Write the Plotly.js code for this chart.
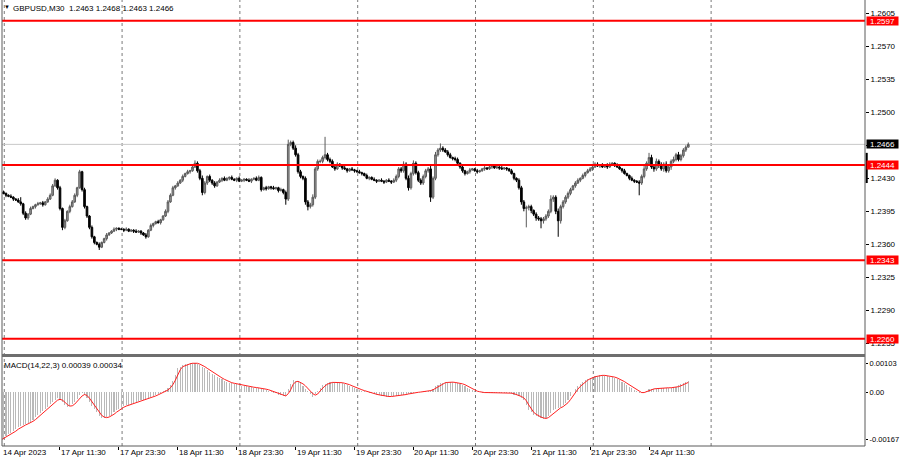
<!DOCTYPE html>
<html><head><meta charset="utf-8">
<script src="https://cdn.plot.ly/plotly-3.0.1.min.js"></script>
<style>html,body{margin:0;padding:0;background:#fff;}#chart{width:900px;height:460px;}</style>
</head><body><div id="chart"></div>
<script>
// GBPUSD M30, bars from 14 Apr 23:30 to 24 Apr 19:30 (bar index 0..280)
// prices in pips above 1.2000 (466 = 1.2466)
const firstOpenPips = 416;
const closePips = [
415,414,412,411,410,408,407,405,403,393,
388,392,398,400,402,403,404,402,405,408,
412,422,428,420,398,378,385,395,400,405,
412,420,437,418,400,390,378,368,362,360,
357,362,366,370,372,374,376,377,376,376,
375,376,374,375,374,373,374,372,370,368,
375,380,382,384,383,386,390,395,405,412,
420,422,425,428,432,435,437,438,442,446,
438,430,415,425,432,428,425,422,426,428,
430,428,430,431,429,428,430,427,428,429,
428,427,429,430,428,431,418,420,419,421,
420,419,420,417,418,415,408,466,468,462,
455,437,432,430,405,400,402,410,440,448,
448,452,455,450,448,442,440,445,443,441,
440,438,440,439,438,437,436,435,433,430,
431,429,428,427,428,427,426,428,427,426,
428,432,440,438,445,430,420,435,446,436,
428,425,432,438,440,410,430,455,460,462,
460,458,455,452,451,450,446,442,438,435,
437,439,440,438,437,438,440,441,440,442,
443,441,442,441,440,441,440,438,435,430,
428,420,405,398,399,400,396,392,388,387,
385,387,390,395,408,410,395,385,400,405,
410,414,418,422,425,428,430,433,436,438,
440,442,445,443,444,442,444,442,445,446,
444,442,440,438,435,433,430,428,427,426,
425,432,440,446,452,442,440,448,444,440,
445,438,442,448,450,455,450,454,460,463,
466];
// wick lengths in pips above body top / below body bottom
const upperWick = [
1,2,1,1,2,1,1,2,5,1, 2,1,2,1,1,2,1,2,1,2, 2,2,2,1,2,1,2,1,2,2, 2,1,2,1,2,1,1,2,1,1,
2,1,1,2,1,1,2,1,1,1, 1,2,1,1,1,2,1,1,1,2, 1,2,1,1,2,1,1,2,2,2, 2,1,2,1,2,1,2,1,2,3,
2,2,3,2,1,2,1,2,1,2, 1,2,1,1,2,1,1,2,1,1, 1,2,1,1,2,2,1,1,2,1, 1,2,1,1,2,1,2,5,2,2,
3,2,2,1,2,2,2,3,2,2, 2,2,19,2,2,2,1,2,1,1, 2,1,1,2,1,1,2,1,1,2, 1,1,2,1,1,2,1,1,2,1,
2,2,2,2,3,2,3,2,3,2, 2,2,2,2,2,3,2,3,2,5, 2,2,2,2,1,2,2,1,2,1, 1,2,1,1,2,1,1,2,1,1,
1,2,1,1,2,1,1,1,2,1, 1,2,2,2,2,2,2,1,2,2, 2,2,2,2,4,2,2,3,2,2, 2,2,2,1,2,2,1,2,1,2,
2,1,2,2,1,2,1,2,2,1, 1,2,1,1,2,1,1,2,1,1, 2,2,3,2,5,3,2,3,2,3, 2,3,2,2,3,2,3,2,2,2,
2];
const lowerWick = [
1,1,2,1,1,2,1,1,2,2, 2,2,1,1,2,1,1,2,1,1, 1,1,1,2,2,3,2,1,2,1, 1,2,1,2,2,2,2,2,2,1,
3,1,1,2,1,1,1,2,1,1, 2,1,1,1,2,1,1,2,1,2, 1,1,2,1,1,2,1,1,2,1, 1,2,1,1,2,1,1,2,1,1,
2,2,3,2,2,2,2,2,1,1, 2,1,1,2,1,1,2,1,1,2, 1,1,2,1,1,1,2,1,2,1, 2,1,1,2,1,2,6,2,2,2,
2,2,2,2,3,4,2,2,2,2, 2,2,2,2,2,1,2,1,1,2, 1,2,1,1,2,1,1,2,1,1, 2,1,1,2,1,1,2,1,1,2,
1,2,2,2,2,2,3,2,2,2, 2,2,2,2,2,5,2,2,2,2, 2,1,2,1,2,2,1,2,2,2, 1,2,1,1,2,1,1,2,1,1,
2,1,1,2,1,1,2,1,1,2, 2,2,3,3,20,3,3,2,3,2, 8,3,2,2,2,3,3,17,3,2, 2,2,2,1,2,1,2,1,2,1,
1,2,1,1,2,1,1,2,1,1, 2,1,1,2,1,1,2,1,2,1, 13,2,2,2,3,2,3,2,3,2, 3,2,2,3,2,2,2,2,2,2,
0];
// MACD(14,22,3) in units of 0.00001
const macdMain = [
-167,-162,-156,-150,-145,-139,-132,-125,-121,-117,
-113,-109,-106,-98,-90,-83,-75,-67,-60,-52,
-43,-35,-28,-23,-28,-35,-46,-54,-50,-43,
-35,-25,-12,-5,-10,-20,-35,-48,-60,-72,
-84,-92,-92,-90,-86,-80,-70,-65,-59,-53,
-50,-47,-45,-42,-39,-36,-33,-30,-28,-25,
-21,-18,-14,-10,-6,-2,2,7,13,25,
40,62,84,90,95,98,100,102,103,102,
100,96,90,84,78,72,65,59,54,50,
45,40,35,33,31,29,27,24,23,22,
20,18,17,16,15,14,12,10,8,5,
2,-2,-5,-9,-12,-14,-15,10,30,41,
38,34,31,22,12,5,-6,-18,-8,5,
15,24,28,32,34,35,34,33,33,32,
29,26,22,18,15,12,8,5,2,0,
-2,-5,-8,-10,-12,-14,-15,-16,-16,-15,
-15,-14,-14,-12,-10,-6,-6,-4,-2,-1,
0,1,2,3,5,8,12,20,26,31,
33,34,35,35,34,33,31,29,26,22,
15,10,6,3,1,-1,-2,-2,-2,-3,
-3,-3,-2,-2,-2,-3,-2,-4,-6,-9,
-12,-15,-20,-29,-45,-65,-72,-80,-85,-89,
-93,-95,-93,-85,-75,-65,-60,-56,-52,-47,
-38,-28,-14,0,10,20,29,36,42,47,
51,54,57,58,59,59,58,57,55,53,
50,46,42,37,31,24,19,13,7,2,
-4,-3,0,5,10,12,12,13,13,14,
14,15,15,16,17,19,24,28,32,35,
39];
const macdSignal = [
-170,-165,-160,-156,-150,-145,-139,-132,-126,-121,
-117,-113,-109,-104,-98,-90,-83,-75,-67,-60,
-52,-43,-35,-29,-26,-29,-36,-45,-50,-49,
-43,-34,-24,-14,-9,-12,-22,-34,-48,-60,
-72,-83,-89,-91,-89,-85,-79,-72,-65,-59,
-54,-50,-47,-45,-42,-39,-36,-33,-30,-28,
-25,-21,-18,-14,-10,-6,-2,2,7,15,
26,42,62,79,90,94,98,100,102,102,
102,99,95,90,84,78,72,65,59,54,
50,45,40,36,33,31,29,27,25,23,
22,20,18,17,16,15,14,12,10,8,
5,2,-2,-5,-9,-12,-14,-6,8,27,
36,38,34,29,22,13,4,-6,-11,-7,
4,15,22,28,31,34,34,34,33,33,
31,29,26,22,18,15,12,8,5,2,
0,-2,-5,-8,-10,-12,-14,-15,-16,-16,
-15,-15,-14,-13,-12,-9,-7,-5,-4,-2,
-1,0,1,2,3,5,8,13,19,26,
30,33,34,35,35,34,33,31,29,26,
21,16,10,6,3,1,-1,-2,-2,-2,
-3,-3,-3,-2,-2,-2,-2,-3,-4,-6,
-9,-12,-16,-21,-31,-46,-61,-72,-79,-85,
-89,-92,-94,-91,-84,-75,-67,-60,-56,-52,
-46,-38,-27,-14,-1,10,20,28,36,42,
47,51,54,56,58,59,59,58,57,55,
53,50,46,42,37,31,25,19,13,7,
2,-2,-2,1,4,9,11,12,13,13,
13,14,15,15,16,17,19,22,26,30,
34];
const timeLabels = ["14 Apr 2023","17 Apr 11:30","17 Apr 23:30","18 Apr 11:30","18 Apr 23:30","19 Apr 11:30","19 Apr 23:30","20 Apr 11:30","20 Apr 23:30","21 Apr 11:30","21 Apr 23:30","24 Apr 11:30"];
const labelBars = [0,24,48,72,96,120,144,168,192,216,240,264];
const levelPrices = [1.2597, 1.2444, 1.2343, 1.2260];
const levelTexts = ["1.2597","1.2444","1.2343","1.2260"];
const lastPrice = 1.2466;
const lastPriceText = "1.2466";
const priceTicks = [1.2605,1.2570,1.2535,1.2500,1.2465,1.2430,1.2395,1.2360,1.2325,1.2290,1.2255];
const macdTicks = [0.00103, 0, -0.00167];
const macdTickText = ["0.00103","0.00","-0.00167"];
const rangeMark = [1.2457, 1.2425];
const headerText = "GBPUSD,M30  1.2463 1.2468 1.2463 1.2466";
const macdHeader = "MACD(14,22,3) 0.00039 0.00034";

const P = v => +(1.2 + v / 10000).toFixed(5);
const idx = closePips.map((_, i) => i);
const openP = closePips.map((c, i) => i === 0 ? firstOpenPips : closePips[i - 1]);
const highP = closePips.map((c, i) => Math.max(c, openP[i]) + upperWick[i]);
const lowP = closePips.map((c, i) => Math.min(c, openP[i]) - lowerWick[i]);

const H = 446; // plot height px
const py = pix => (H - pix) / H;
const xRange = [0.37, 352.0];

const traces = [
  {type: 'candlestick', x: idx, open: openP.map(P), high: highP.map(P), low: lowP.map(P), close: closePips.map(P),
   xaxis: 'x', yaxis: 'y', whiskerwidth: 0, hoverinfo: 'skip',
   increasing: {line: {color: '#5a5a5a', width: 1}, fillcolor: '#9c9c9c'},
   decreasing: {line: {color: '#000000', width: 1}, fillcolor: '#000000'}},
  {type: 'bar', x: idx, y: macdMain.map(v => v / 1e5), xaxis: 'x', yaxis: 'y2', width: 0.45,
   marker: {color: '#b9b9b9', line: {width: 0}}, hoverinfo: 'skip'},
  {type: 'scatter', mode: 'lines', x: idx, y: macdSignal.map(v => v / 1e5), xaxis: 'x', yaxis: 'y2',
   line: {color: '#ff2020', width: 1}, hoverinfo: 'skip'}
];

const shapes = [];
for (let k = 0; k < 7; k++) {
  shapes.push({type: 'line', xref: 'x', yref: 'paper', x0: 1.3 + 48 * k, x1: 1.3 + 48 * k, y0: 0, y1: 1,
    line: {color: '#7a7a7a', width: 1, dash: 'dot'}, layer: 'below'});
}
shapes.push({type: 'line', xref: 'paper', yref: 'y', x0: 0, x1: 1, y0: lastPrice, y1: lastPrice, line: {color: '#c8c8c8', width: 1}, layer: 'below'});
levelPrices.forEach(p => shapes.push({type: 'line', xref: 'paper', yref: 'y', x0: 0, x1: 1, y0: p, y1: p, line: {color: '#ff0000', width: 2}}));
// frame
shapes.push({type: 'line', xref: 'paper', yref: 'paper', x0: 0, x1: 0, y0: 0, y1: 1, line: {color: '#5a5a5a', width: 1}});
shapes.push({type: 'line', xref: 'paper', yref: 'paper', x0: 1, x1: 1, y0: 0, y1: 1, line: {color: '#5a5a5a', width: 1}});
shapes.push({type: 'line', xref: 'paper', yref: 'paper', x0: 0, x1: 1, y0: 0, y1: 0, line: {color: '#5a5a5a', width: 1}});
shapes.push({type: 'line', xref: 'paper', yref: 'paper', x0: 0, x1: 1, y0: py(355.5), y1: py(355.5), line: {color: '#6e6e6e', width: 3}});
shapes.push({type: 'line', xref: 'paper', yref: 'y', x0: 1.002, x1: 1.002, y0: rangeMark[0], y1: rangeMark[1], line: {color: '#000000', width: 2}});

const annotations = [];
labelBars.forEach((b, i) => annotations.push({xref: 'x', yref: 'paper', x: Math.max(b, xRange[0]), y: py(452), xanchor: 'left', yanchor: 'middle',
  xshift: 0, text: timeLabels[i], showarrow: false, font: {size: 8, color: '#000'}, borderpad: 0}));
levelPrices.forEach((p, i) => annotations.push({xref: 'paper', yref: 'y', x: 1, y: p, xanchor: 'left', yanchor: 'middle', xshift: 1,
  text: levelTexts[i], showarrow: false, bgcolor: '#ff0000', font: {size: 8, color: '#ffffff'}, width: 31, height: 8, borderpad: 0, align: 'center'}));
annotations.push({xref: 'paper', yref: 'y', x: 1, y: lastPrice, xanchor: 'left', yanchor: 'middle', xshift: 1,
  text: lastPriceText, showarrow: false, bgcolor: '#000000', font: {size: 8, color: '#ffffff'}, width: 31, height: 8, borderpad: 0, align: 'center'});
annotations.push({xref: 'paper', yref: 'paper', x: 0, y: py(8), xanchor: 'left', yanchor: 'middle', xshift: 10,
  text: headerText, showarrow: false, font: {size: 8, color: '#000'}, borderpad: 0});
annotations.push({xref: 'paper', yref: 'paper', x: 0, y: py(7), xanchor: 'left', yanchor: 'middle', xshift: 1,
  text: '▼', showarrow: false, font: {size: 6, color: '#000'}, borderpad: 0});
annotations.push({xref: 'paper', yref: 'paper', x: 0, y: py(365), xanchor: 'left', yanchor: 'middle', xshift: 1,
  text: macdHeader, showarrow: false, font: {size: 8, color: '#000'}, borderpad: 0});

const layout = {
  width: 900, height: 460,
  margin: {l: 2, r: 35, t: 0, b: 14, pad: 0},
  paper_bgcolor: '#ffffff', plot_bgcolor: '#ffffff',
  font: {family: 'Liberation Sans, Arial, sans-serif', size: 8, color: '#000'},
  showlegend: false, dragmode: false, hovermode: false, boxgap: 0.05,
  xaxis: {anchor: 'y2', range: xRange, showgrid: false, zeroline: false, showline: false,
    tickvals: labelBars, ticks: 'outside', ticklen: 3, tickcolor: '#000', showticklabels: false,
    rangeslider: {visible: false}, fixedrange: true},
  yaxis: {domain: [py(354), 1], range: [1.22437, 1.26191], side: 'right', anchor: 'x',
    showgrid: false, zeroline: false, showline: false, tickvals: priceTicks, ticktext: priceTicks.map(v => v.toFixed(4)),
    ticks: 'outside', ticklen: 3, tickcolor: '#000', tickfont: {size: 8}, fixedrange: true},
  yaxis2: {domain: [0, py(357)], range: [-0.001917, 0.001243], side: 'right', anchor: 'x',
    showgrid: false, zeroline: false, showline: false, tickvals: macdTicks, ticktext: macdTickText,
    ticks: 'outside', ticklen: 2, tickcolor: '#000', tickfont: {size: 7.5}, ticklabelstandoff: 0, fixedrange: true},
  shapes: shapes, annotations: annotations, bargap: 0
};
Plotly.newPlot('chart', traces, layout, {staticPlot: true, displayModeBar: false});
</script></body></html>
